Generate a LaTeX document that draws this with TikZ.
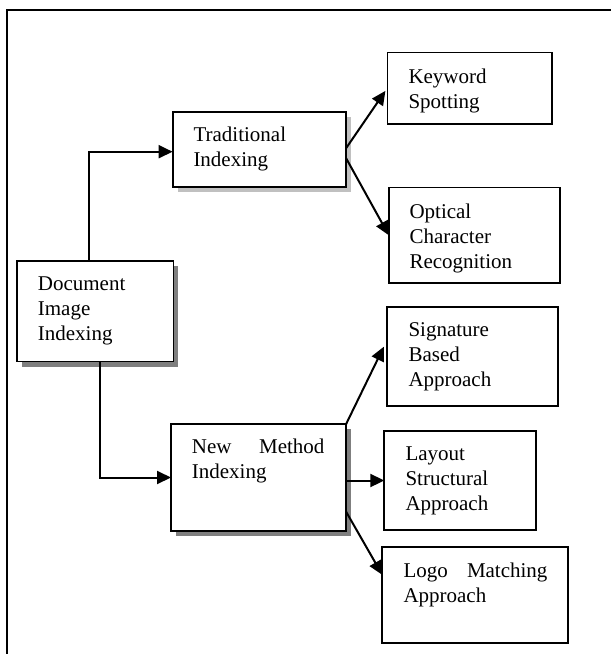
\documentclass[tikz,border=0pt]{standalone}
\usepackage{fontspec}
\setmainfont{Liberation Serif}
\usetikzlibrary{arrows.meta,shadows}

\definecolor{shadowdark}{HTML}{7F7F7F}
\definecolor{shadowlight}{HTML}{C0C0C0}

\tikzset{
  frameline/.style={line width=2pt},
  box/.style={draw, line width=1.8pt, fill=white, inner sep=0pt, outer sep=0pt,
              anchor=north west},
  darkshade/.style={drop shadow={shadow xshift=5pt, shadow yshift=-5pt,
                    fill=shadowdark, opacity=1}},
  lightshade/.style={drop shadow={shadow xshift=5pt, shadow yshift=-5pt,
                     fill=shadowlight, opacity=1}},
  txt/.style={anchor=base west, inner sep=0pt, font=\fontsize{21}{25}\selectfont},
  link/.style={line width=2pt, -{Triangle[length=14pt,width=13pt]}}
}

\begin{document}
\begin{tikzpicture}[x=1pt, y=-1pt]
\useasboundingbox (0,0) rectangle (611,654);

% open frame: left and top edges only
\draw[frameline] (6.7,654) -- (6.7,10) -- (611,10);

% boxes
\node[box, darkshade, minimum width=156.6pt, minimum height=100.9pt] (doc) at (16.8,260.6) {};
\node[box, lightshade, minimum width=173.5pt, minimum height=75pt] (trad) at (172.6,112.2) {};
\node[box, darkshade, minimum width=175pt, minimum height=106.4pt] (new) at (171,424.3) {};
\node[box, minimum width=164.4pt, minimum height=71.8pt] (kw) at (387.4,52.5) {};
\node[box, minimum width=171.2pt, minimum height=95.5pt] (ocr) at (388.8,187.5) {};
\node[box, minimum width=171.4pt, minimum height=98.9pt] (sig) at (386.8,306.8) {};
\node[box, minimum width=151.4pt, minimum height=99pt] (lay) at (384.3,431) {};
\node[box, minimum width=186pt, minimum height=95.7pt] (logo) at (382.3,547) {};

% box texts
\node[txt] (doc-t) at (37.7,290.7) {\vtop{\hbox{Document}\hbox{Image}\hbox{Indexing}}};
\node[txt] (trad-t) at (193.3,141.7) {\vtop{\hbox{Traditional}\hbox{Indexing}}};
\node[txt] (new-t) at (191.7,453.3) {\vtop{\hbox to 132.6pt{New\hfill Method}\hbox{Indexing}}};
\node[txt] (kw-t) at (408.3,83.3) {\vtop{\hbox{Keyword}\hbox{Spotting}}};
\node[txt] (ocr-t) at (409.3,218.3) {\vtop{\hbox{Optical}\hbox{Character}\hbox{Recognition}}};
\node[txt] (sig-t) at (408.3,336.7) {\vtop{\hbox{Signature}\hbox{Based}\hbox{Approach}}};
\node[txt] (lay-t) at (405.3,460.7) {\vtop{\hbox{Layout}\hbox{Structural}\hbox{Approach}}};
\node[txt] (logo-t) at (403.3,577.3) {\vtop{\hbox to 144pt{Logo\hfill Matching}\hbox{Approach}}};

% connectors
\draw[link] ([xshift=72.5pt]doc.north west) |- ([yshift=-2pt]trad.west);
\draw[link] ([xshift=83.2pt]doc.south west) |- (new.west);
\draw[link] ([yshift=1.5pt]trad.east) -- ([xshift=-2pt,yshift=-2.5pt]kw.west);
\draw[link] ([yshift=-8.5pt]trad.east) -- (ocr.west);
\draw[link] (new.north east) -- ([xshift=-3pt,yshift=9.5pt]sig.west);
\draw[link] (new.east |- lay.west) -- (lay.west);
\draw[link] ([yshift=-34pt]new.east) -- ([yshift=20pt]logo.west);
\end{tikzpicture}
\end{document}
